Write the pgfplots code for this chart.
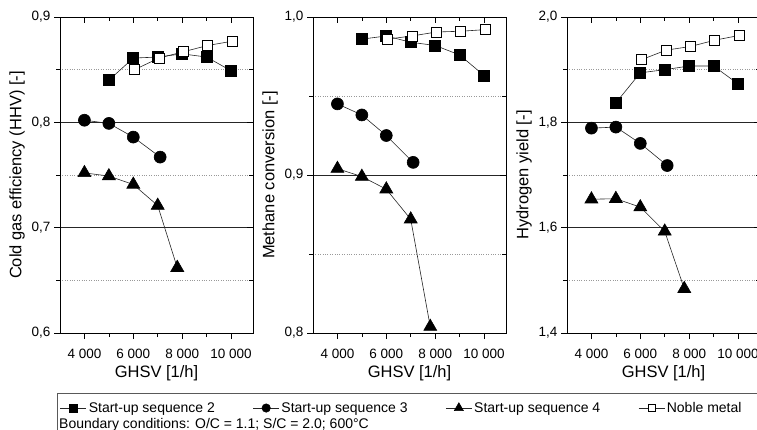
\documentclass[border=0pt]{standalone}
\usepackage{fontspec}
\setmainfont{Liberation Sans}
\usepackage{pgfplots}
\pgfplotsset{compat=1.18}

\pgfplotsset{
  panel/.style={
    scale only axis, width=193pt, height=316pt,
    xmin=3000, xmax=10900,
    scaled x ticks=false, scaled y ticks=false,
    xtick={4000,6000,8000,10000},
    xticklabels={4 000,6 000,8 000,10 000},
    minor x tick num=1, minor y tick num=1,
    tick align=outside, xtick pos=bottom, ytick pos=left,
    major tick length=6pt, minor tick length=4pt,
    tick style={black, line width=0.6pt},
    ymajorgrids, yminorgrids,
    major grid style={black!85, line width=0.5pt},
    minor grid style={gray!80, dotted, line width=0.6pt},
    axis line style={black, line width=0.8pt},
    ticklabel style={font=\fontsize{13.5}{16}\selectfont},
    xticklabel style={yshift=-7pt},
    label style={font=\fontsize{16.5}{20}\selectfont},
    xlabel={GHSV [1/h]},
    xlabel style={at={(axis description cs:0.5,0)}, anchor=center, yshift=-40pt},
    /pgf/number format/assume math mode=true,
    /pgf/number format/use comma,
    /pgf/number format/fixed,
    /pgf/number format/fixed zerofill,
    /pgf/number format/precision=1,
  },
  mirror/.style={
    scale only axis, width=193pt, height=316pt,
    xmin=3000, xmax=10900,
    scaled x ticks=false, scaled y ticks=false,
    xtick={4000,6000,8000,10000}, xticklabels={},
    yticklabels={},
    minor x tick num=1, minor y tick num=1,
    tick align=inside, xtick pos=top, ytick pos=right,
    major tick length=6pt, minor tick length=4pt,
    tick style={black, line width=0.6pt},
    axis line style={black, line width=0.8pt},
  },
  s2/.style={black!85, line width=0.6pt, mark=square*, mark size=5.5pt, mark options={solid, fill=black, draw=black}},
  s3/.style={black!85, line width=0.6pt, mark=*, mark size=6pt, mark options={solid, fill=black, draw=black}},
  s4/.style={black!85, line width=0.6pt, mark=triangle*, mark size=7.5pt, mark options={solid, fill=black, draw=black}},
  nm/.style={black!85, line width=0.6pt, mark=square*, mark size=5pt, mark options={solid, fill=white, draw=black, line width=0.7pt}},
}

\begin{document}
\begin{tikzpicture}

% ---- panel 1: cold gas efficiency (carries the legend)
\begin{axis}[panel, at={(60pt,-333pt)}, anchor=south west,
    ymin=0.6, ymax=0.9, ytick={0.6,0.7,0.8,0.9},
    ylabel={Cold gas efficiency (HHV) [-]},
    legend columns=4,
    legend cell align=left,
    legend image code/.code={\draw[mark repeat=2, mark phase=2, #1, /tikz/every mark/.append style={scale=0.7}]
        plot coordinates {(0pt,0pt) (13pt,0pt) (26pt,0pt)};},
    legend style={draw=none, fill=none, at={(0,-0.212)}, anchor=north west,
        inner sep=0pt, font=\fontsize{14}{16}\selectfont,
        /tikz/every even column/.append style={column sep=36pt}},
]
\addplot[s2] coordinates {(5000,0.840) (6000,0.861) (7000,0.862) (8000,0.865) (9000,0.862) (10000,0.849)};
\addlegendentry{Start-up sequence 2}
\addplot[s3] coordinates {(4000,0.802) (5000,0.799) (6000,0.786) (7100,0.767)};
\addlegendentry{Start-up sequence 3}
\addplot[s4] coordinates {(4000,0.752) (5000,0.749) (6000,0.741) (7000,0.721) (7800,0.662)};
\addlegendentry{Start-up sequence 4}
\addplot[nm] coordinates {(6050,0.850) (7050,0.861) (8050,0.867) (9050,0.873) (10050,0.877)};
\addlegendentry{Noble metal}
\end{axis}
\begin{axis}[mirror, at={(60pt,-333pt)}, anchor=south west,
    ymin=0.6, ymax=0.9, ytick={0.6,0.7,0.8,0.9}]
\end{axis}

% ---- panel 2: methane conversion
\begin{axis}[panel, at={(313pt,-333pt)}, anchor=south west,
    ymin=0.8, ymax=1.0, ytick={0.8,0.9,1.0},
    ylabel={Methane conversion [-]}]
\addplot[s2] coordinates {(5000,0.986) (6000,0.988) (7000,0.984) (8000,0.982) (9000,0.976) (10000,0.963)};
\addplot[s3] coordinates {(4000,0.945) (5000,0.938) (6000,0.925) (7100,0.908)};
\addplot[s4] coordinates {(4000,0.904) (5000,0.899) (6000,0.891) (7000,0.872) (7800,0.804)};
\addplot[nm] coordinates {(6050,0.986) (7050,0.988) (8050,0.9905) (9050,0.991) (10050,0.992)};
\end{axis}
\begin{axis}[mirror, at={(313pt,-333pt)}, anchor=south west,
    ymin=0.8, ymax=1.0, ytick={0.8,0.9,1.0}]
\end{axis}

% ---- panel 3: hydrogen yield
\begin{axis}[panel, at={(567pt,-333pt)}, anchor=south west,
    ymin=1.4, ymax=2.0, ytick={1.4,1.6,1.8,2.0},
    ylabel={Hydrogen yield [-]}]
\addplot[s2] coordinates {(5000,1.837) (6000,1.894) (7000,1.900) (8000,1.907) (9000,1.907) (10000,1.873)};
\addplot[s3] coordinates {(4000,1.789) (5000,1.791) (6000,1.760) (7100,1.718)};
\addplot[s4] coordinates {(4000,1.654) (5000,1.655) (6000,1.639) (7000,1.593) (7800,1.484)};
\addplot[nm] coordinates {(6050,1.919) (7050,1.937) (8050,1.944) (9050,1.956) (10050,1.965)};
\end{axis}
\begin{axis}[mirror, at={(567pt,-333pt)}, anchor=south west,
    ymin=1.4, ymax=2.0, ytick={1.4,1.6,1.8,2.0}]
\end{axis}

% ---- legend frame and boundary conditions
\draw[black!65, line width=0.8pt] (57pt,-393pt) rectangle (800pt,-470pt);
\node[anchor=base west, inner sep=0pt, font=\fontsize{14}{16}\selectfont] at (59pt,-428pt)
    {Boundary conditions: O/C = 1.1; S/C = 2.0; 600°C};

\pgfresetboundingbox
\path[use as bounding box] (0pt,0pt) rectangle (757pt,-429pt);
\end{tikzpicture}
\end{document}
